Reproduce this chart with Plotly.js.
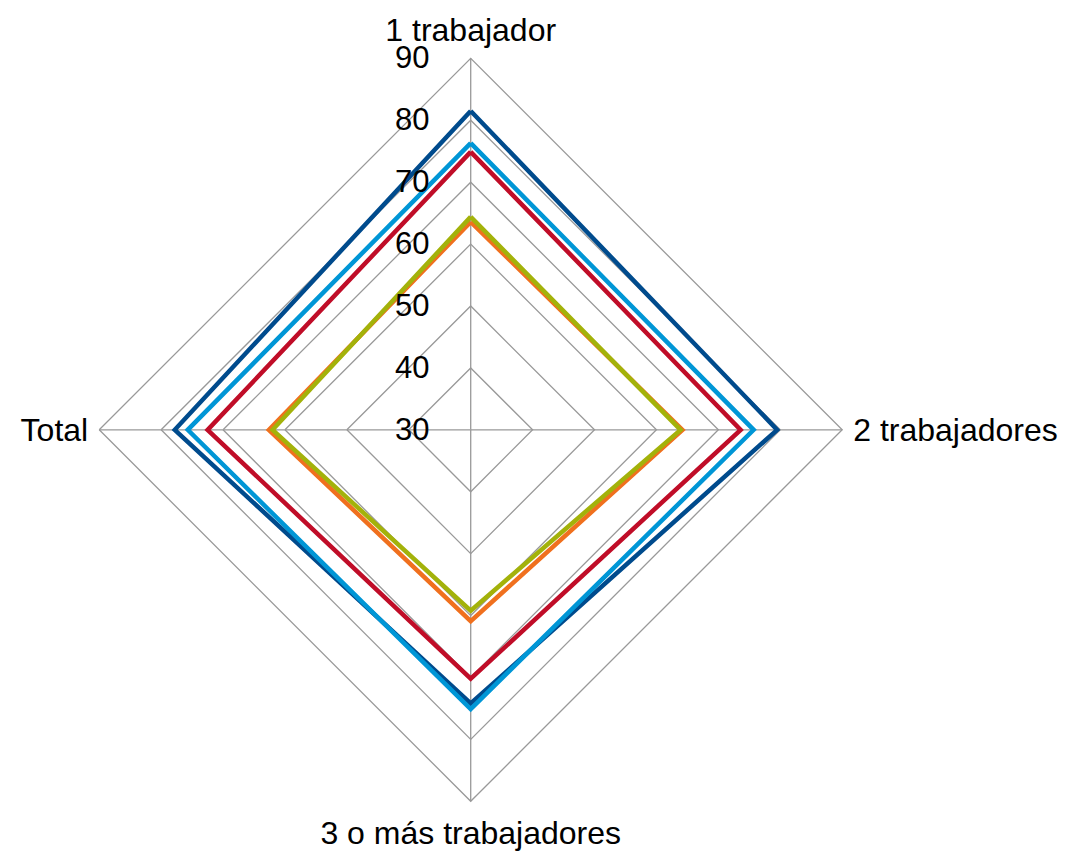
<!DOCTYPE html>
<html>
<head>
<meta charset="utf-8">
<script src="https://cdn.plot.ly/plotly-3.0.1.min.js"></script>
<style>html,body{margin:0;padding:0;background:#fff;}#chart{width:1067px;height:852px;}</style>
</head>
<body>
<div id="chart"></div>
<script>
const categories = ["1 trabajador", "2 trabajadores", "3 o más trabajadores", "Total"];
const serie1 = [81.5, 79.5, 74.2, 77.8];
const serie2 = [76.3, 75.7, 75.1, 75.7];
const serie3 = [74.9, 73.6, 70.2, 72.5];
const serie4 = [63.6, 64.2, 60.9, 62.6];
const serie5 = [64.4, 63.9, 59.2, 62.0];
const seriesNames = ["Serie 1", "Serie 2", "Serie 3", "Serie 4", "Serie 5"];
const colors = ["#004B8D", "#0096D6", "#C00D28", "#F0701E", "#A3B20A"];
const radialTicks = [30, 40, 50, 60, 70, 80, 90];

const allSeries = [serie1, serie2, serie3, serie4, serie5];
const traces = allSeries.map((vals, i) => ({
  type: "scatterpolar",
  mode: "lines",
  name: seriesNames[i],
  r: vals.concat([vals[0]]),
  theta: categories.concat([categories[0]]),
  line: {color: colors[i], width: 4.5},
  hoverinfo: "name+r+theta"
}));

const layout = {
  width: 1067, height: 852,
  margin: {l: 0, r: 0, t: 0, b: 0},
  paper_bgcolor: "#fff",
  showlegend: false,
  font: {family: "Liberation Sans, Arial, sans-serif", size: 32, color: "#000"},
  polar: {
    domain: {x: [0.0928, 0.7895], y: [0.0595, 0.9315]},
    bgcolor: "#fff",
    gridshape: "linear",
    angularaxis: {
      direction: "clockwise",
      rotation: 90,
      type: "category",
      categoryarray: categories,
      showline: true,
      linecolor: "#999999",
      linewidth: 1.3,
      gridcolor: "#999999",
      gridwidth: 1.3,
      ticks: "outside",
      ticklen: 4,
      tickcolor: "rgba(0,0,0,0)",
      tickfont: {size: 32, color: "#000"}
    },
    radialaxis: {
      range: [30, 90],
      tickvals: radialTicks,
      ticktext: radialTicks.map(String),
      angle: 90,
      tickangle: 90,
      side: "counterclockwise",
      showline: false,
      gridcolor: "#999999",
      gridwidth: 1.3,
      ticks: "outside",
      ticklen: 30,
      tickcolor: "rgba(0,0,0,0)",
      tickfont: {size: 31, color: "#000"}
    }
  }
};

Plotly.newPlot("chart", traces, layout, {displayModeBar: false, staticPlot: true});
</script>
</body>
</html>
